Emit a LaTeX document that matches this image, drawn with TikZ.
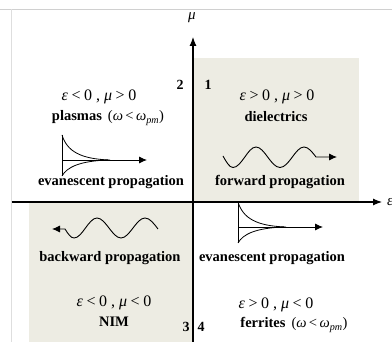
\documentclass[tikz,border=0pt]{standalone}
\usepackage{fontspec}
\setmainfont{Liberation Serif}
\usetikzlibrary{arrows.meta}
\definecolor{quadfill}{RGB}{237,236,227}
\definecolor{framegray}{RGB}{208,208,208}

\begin{document}
\begin{tikzpicture}[
    x=1pt, y=-1pt,
    axis/.style={-{Latex[length=9pt,width=7pt]}, line width=1.1pt},
    fwd/.style={-{Latex[length=8pt,width=7pt]}, line width=0.9pt},
    bwd/.style={{Latex[length=8pt,width=7pt]}-, line width=0.9pt},
    decay/.style={line width=0.8pt},
    num/.style={font=\fontsize{14}{16}\selectfont\bfseries, inner sep=0pt},
    cond/.style={font=\fontsize{16}{18}\selectfont, inner sep=0pt},
    mat/.style={font=\fontsize{14.5}{17}\selectfont, inner sep=0pt},
    prop/.style={font=\fontsize{14.5}{17}\selectfont\bfseries, inner sep=0pt},
  ]
  \useasboundingbox (0,0) rectangle (392,342);
  \fill[white] (0,0) rectangle (392,342);
  % edge of the cropped figure
  \draw[framegray, line width=1.2pt] (0,9.5) -- (392,9.5);
  \draw[framegray!70, line width=1pt] (11.5,9.5) -- (11.5,342);

  % shaded quadrants 1 and 3
  \fill[quadfill] (193,58) rectangle (359,202);
  \fill[quadfill] (29,202) rectangle (193,342);

  % axes
  \coordinate (xstart) at (11.5,202);
  \coordinate (xend) at (382,202);
  \coordinate (ystart) at (193,342);
  \coordinate (yend) at (193,37);
  \draw[axis] (xstart) -- (xend);
  \draw[axis] (ystart) -- (yend);
  \node[font=\fontsize{15}{17}\selectfont\itshape, inner sep=0pt] (mulbl) at (192,18) {μ};
  \node[font=\fontsize{15}{17}\selectfont\itshape, inner sep=0pt, anchor=west] (epslbl) at (387,202) {ε};

  % quadrant numbers
  \node[num] (num1) at (208,85) {1};
  \node[num] (num2) at (180,85) {2};
  \node[num] (num3) at (186,327) {3};
  \node[num] (num4) at (201,327) {4};

  % quadrant 2
  \node[cond] (cond2) at (99,97) {\textit{ε}\:<\:0~,~\textit{μ}\:>\:0};
  \node[mat] (mat2) at (108,118) {\textbf{plasmas}\hspace{6pt}(\textit{ω}\,<\,\textit{ω}\textsubscript{\textit{pm}})};
  \draw[decay] (62,135) -- (62,176);
  \draw[decay] (62,135) .. controls (67,151) and (80,159) .. (110,160);
  \draw[decay] (62,176) .. controls (67,167) and (80,161) .. (108,160);
  \draw[fwd] (62,160) -- (147,160);
  \node[prop] (prop2) at (111,182) {evanescent propagation};

  % quadrant 1
  \node[cond] (cond1) at (277,97) {\textit{ε}\:>\:0~,~\textit{μ}\:>\:0};
  \node[mat] (mat1) at (276,117) {\textbf{dielectrics}};
  \draw[fwd] (223,156) sin (233,167.5) cos (244.5,157.5) sin (256,147) cos (268,157.5)
    sin (280,167.5) cos (292,157.5) sin (304,147) cos (316,157) -- (337,157);
  \node[prop] (prop1) at (280,182) {forward propagation};

  % quadrant 3
  \draw[bwd] (52,229) -- (65,229) sin (74,238) cos (85.5,228) sin (97,218) cos (109,228)
    sin (121,238) cos (133,228) sin (145,218) cos (158,229);
  \node[prop] (prop3) at (110,258) {backward propagation};
  \node[cond] (cond3) at (114,303) {\textit{ε}\:<\:0~,~\textit{μ}\:<\:0};
  \node[mat] (mat3) at (114,322) {\textbf{NIM}};

  % quadrant 4
  \draw[decay] (238,202) -- (238,243);
  \draw[decay] (238,202) .. controls (243,218) and (256,226) .. (286,227);
  \draw[decay] (238,243) .. controls (243,234) and (256,228) .. (284,227);
  \draw[fwd] (238,227) -- (323,227);
  \node[prop] (prop4) at (272,258) {evanescent propagation};
  \node[cond] (cond4) at (276,305) {\textit{ε}\:>\:0~,~\textit{μ}\:<\:0};
  \node[mat] (mat4) at (294,325) {\textbf{ferrites}\hspace{6pt}(\textit{ω}\,<\,\textit{ω}\textsubscript{\textit{pm}})};
\end{tikzpicture}
\end{document}
